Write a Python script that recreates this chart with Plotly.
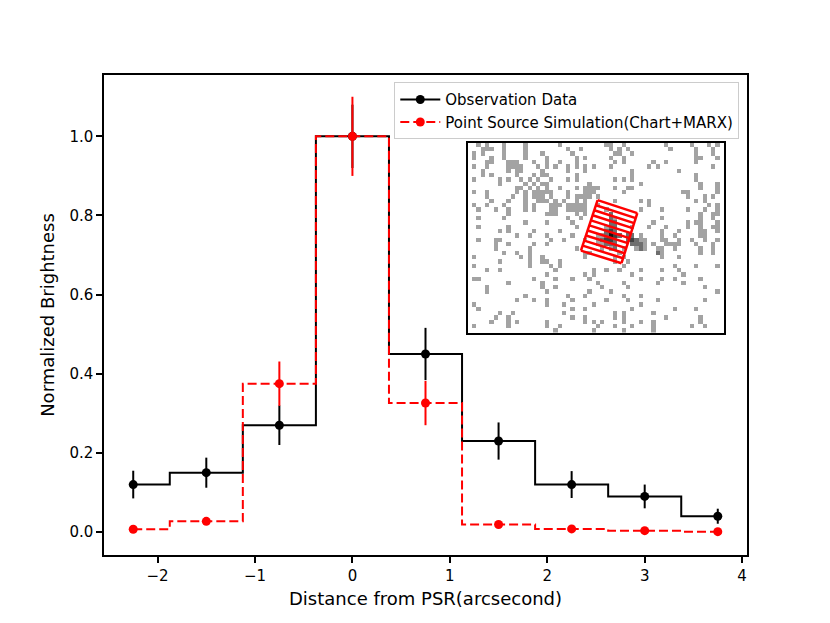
import numpy as np
import plotly.graph_objects as go

# radial profile, normalized to the peak bin
distance = [-2.25, -1.5, -0.75, 0, 0.75, 1.5, 2.25, 3, 3.75]
obs = [0.12, 0.15, 0.27, 1.0, 0.45, 0.23, 0.12, 0.09, 0.04]
obs_err = [0.035, 0.038, 0.05, 0.08, 0.066, 0.047, 0.034, 0.03, 0.019]
sim = [0.007, 0.027, 0.375, 1.0, 0.326, 0.019, 0.008, 0.0035, 0.001]
sim_err = [0.003, 0.008, 0.056, 0.1, 0.056, 0.005, 0.003, 0.002, 0.002]

x_ticks = [-2, -1, 0, 1, 2, 3, 4]
y_ticks = [0.0, 0.2, 0.4, 0.6, 0.8, 1.0]

# inset counts image (60 x 44), single-count pixels per row
img_w, img_h = 60, 44
noise_cols = [
    [2, 4, 8, 13, 21, 32, 33, 36, 46, 52, 56, 58],
    [3, 4, 5, 8, 13, 23, 26, 33, 35, 37, 47, 53, 57],
    [1, 3, 8, 13, 17, 24, 34, 35, 38, 53, 57],
    [1, 5, 8, 13, 18, 25, 27, 33, 36, 53, 54, 58],
    [4, 5, 9, 10, 11, 15, 18, 21, 25, 34, 36, 43, 46, 53],
    [1, 4, 9, 10, 11, 12, 16, 18, 20, 23, 25, 27, 29, 33, 42, 44, 57],
    [3, 9, 11, 12, 17, 23, 27, 38, 49],
    [3, 5, 11, 15, 17, 18, 25, 38, 53],
    [1, 7, 9, 12, 14, 16, 19, 23, 25, 34, 36, 38, 53],
    [7, 13, 15, 17, 18, 28, 40, 54, 58],
    [11, 12, 14, 16, 18, 21, 25, 27, 28, 29, 30, 34, 37, 38, 54, 58],
    [1, 4, 11, 13, 15, 16, 17, 18, 19, 23, 27, 28, 29, 36, 50, 51, 58],
    [4, 10, 13, 15, 16, 17, 19, 23, 25, 26, 27, 28, 30, 51, 55, 57],
    [5, 9, 13, 16, 17, 18, 20, 22, 25, 27, 34, 40, 42, 53, 55],
    [1, 4, 8, 13, 15, 19, 20, 21, 23, 24, 25, 26, 27, 30, 42, 56, 58],
    [2, 6, 9, 13, 15, 19, 20, 23, 24, 25, 26, 27, 40, 45, 51, 55, 58],
    [9, 18, 19, 20, 25, 27, 54, 57, 58],
    [2, 8, 23, 26, 45, 54, 57],
    [13, 18, 24, 43, 51, 53, 54, 58],
    [2, 9, 25, 38, 42, 46, 51, 54, 57, 58],
    [7, 9, 15, 21, 45, 49, 54, 55, 58],
    [11, 14, 18, 24, 30, 40, 45, 48, 54, 55],
    [2, 6, 7, 19, 22, 27, 30, 41, 45, 46, 49, 52, 55, 58],
    [6, 9, 15, 18, 30, 43, 46, 47, 48, 49, 53, 57],
    [6, 14, 25, 31, 36, 44, 45, 48, 54, 57],
    [8, 11, 14, 27, 28, 35, 44, 54, 57],
    [1, 12, 14, 17, 27, 34, 36, 45, 49],
    [7, 14, 17, 18, 21, 34, 37],
    [1, 14, 19, 21, 36, 48, 53, 58],
    [4, 7, 20, 29, 32, 35, 40, 45, 49],
    [18, 27, 29, 38, 50],
    [1, 2, 15, 20, 24, 28, 40, 45, 48, 54],
    [9, 17, 30, 36, 44, 50],
    [4, 17, 20, 31, 37, 55],
    [4, 18, 28, 33, 58],
    [13, 23, 27, 36, 40],
    [11, 15, 18, 24, 32, 37, 44, 55],
    [1, 18, 22, 29, 40],
    [2, 24, 27, 38, 48, 53],
    [7, 10, 22, 34, 36, 43],
    [6, 9, 24, 27, 34, 36, 46, 54],
    [5, 9, 11, 18, 27, 29, 31, 36, 40, 43, 54],
    [1, 9, 18, 21, 30, 34, 38, 43, 52, 55],
    [20, 29, 36, 43],
]
# brighter pixels of the source (row, col, counts)
source_pixels = [
    (15, 32, 1), (16, 33, 2), (17, 33, 2), (17, 34, 1), (18, 33, 2), (18, 34, 2),
    (19, 32, 1), (19, 33, 2), (19, 34, 2), (20, 32, 2), (20, 33, 3), (20, 34, 2),
    (21, 31, 1), (21, 32, 2), (21, 33, 4), (21, 34, 3), (21, 35, 2),
    (22, 31, 2), (22, 32, 3), (22, 33, 3), (22, 34, 2),
    (23, 31, 1), (23, 32, 2), (23, 33, 2), (23, 34, 2), (24, 33, 1), (24, 34, 2),
    (21, 37, 2), (21, 38, 2), (22, 37, 2), (22, 38, 3), (22, 39, 2), (22, 40, 1),
    (23, 38, 2), (23, 39, 2), (23, 40, 2), (23, 41, 1), (24, 39, 1), (24, 40, 2),
    (24, 41, 1), (25, 44, 2), (25, 45, 1),
]
# extraction region corners in image pixels: TL, TR, BR, BL
region = [(29.9, 12.8), (39.2, 15.8), (35.5, 27.4), (26.0, 24.5)]
n_strips = 10

z = np.zeros((img_h, img_w))
for r, cols in enumerate(noise_cols):
    for c in cols:
        z[r, c] = 1
for r, c, v in source_pixels:
    z[r, c] = v

# strip outlines
tl, tr, br, bl = [np.array(p) for p in region]
bx, by = [], []
for i in range(n_strips + 1):
    f = i / n_strips
    a = tl + (bl - tl) * f
    b = tr + (br - tr) * f
    bx += [a[0], b[0], None]
    by += [a[1], b[1], None]
bx += [tl[0], bl[0], None, tr[0], br[0]]
by += [tl[1], bl[1], None, tr[1], br[1]]

fig = go.Figure()

fig.add_trace(go.Scatter(
    x=distance, y=obs, mode='lines+markers', name='Observation Data',
    line=dict(color='black', width=2, shape='hvh'),
    marker=dict(color='black', size=9),
    error_y=dict(type='data', array=obs_err, color='black', thickness=2, width=0),
))
fig.add_trace(go.Scatter(
    x=distance, y=sim, mode='lines+markers', name='Point Source Simulation(Chart+MARX)',
    line=dict(color='red', width=2, shape='hvh', dash='9px,4px'),
    marker=dict(color='red', size=9),
    error_y=dict(type='data', array=sim_err, color='red', thickness=2, width=0),
))

fig.add_trace(go.Heatmap(
    z=z, xaxis='x2', yaxis='y2', zmin=0, zmax=4, showscale=False, hoverinfo='skip',
    colorscale=[[0, 'white'], [0.25, '#a3a3a3'], [0.5, '#6e6e6e'],
                [0.75, '#404040'], [1, '#151515']],
))
fig.add_trace(go.Scatter(
    x=bx, y=by, xaxis='x2', yaxis='y2', mode='lines', showlegend=False,
    line=dict(color='red', width=2.5), hoverinfo='skip',
))

axis_style = dict(showline=True, mirror=True, linecolor='black', linewidth=1.5,
                  ticks='outside', ticklen=6, tickwidth=1.5, tickcolor='black',
                  showgrid=False, zeroline=False, automargin=False)

# the page body adds an 8px offset, so the figure is 8px smaller
fig.update_layout(
    width=822, height=615,
    margin=dict(l=96, r=83, t=67, b=68),
    paper_bgcolor='white', plot_bgcolor='white',
    font=dict(family='DejaVu Sans', size=15, color='black'),
    xaxis=dict(range=[-2.55, 4.05], tickvals=x_ticks,
               title=dict(text='Distance from PSR(arcsecond)', standoff=9),
               **axis_style),
    yaxis=dict(range=[-0.058, 1.155], tickvals=y_ticks, tickformat='.1f',
               title=dict(text='Normalized Brightness', standoff=10),
               **axis_style),
    xaxis2=dict(domain=[0.566, 0.964], anchor='y2', range=[-0.5, img_w - 0.5],
                showticklabels=False, ticks='', showgrid=False, zeroline=False,
                showline=True, mirror=True, linecolor='black', linewidth=1.5),
    yaxis2=dict(domain=[0.463, 0.859], anchor='x2', range=[img_h - 0.5, -0.5],
                showticklabels=False, ticks='', showgrid=False, zeroline=False,
                showline=True, mirror=True, linecolor='black', linewidth=1.5),
    legend=dict(x=0.988, y=0.985, xanchor='right', yanchor='top', itemwidth=40,
                bordercolor='#cccccc', borderwidth=1,
                bgcolor='rgba(255,255,255,0.8)', font=dict(size=15)),
)

fig.write_html("out.html")
